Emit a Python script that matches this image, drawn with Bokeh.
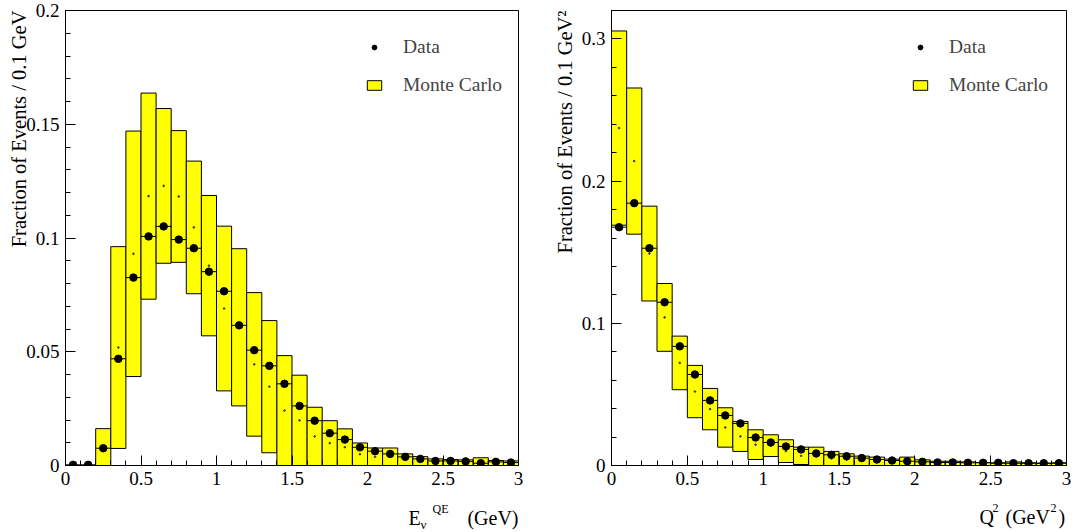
from bokeh.plotting import figure
from bokeh.layouts import row, column
from bokeh.models import (Range1d, FixedTicker, CustomJSTickFormatter, Label, Title,
                          Legend, LegendItem, ColumnDataSource)
from bokeh.embed import file_html
from bokeh.resources import INLINE

# ---------------- data ----------------
bin_lo = [round(0.1 * i, 1) for i in range(30)]
bin_hi = [round(0.1 * i + 0.1, 1) for i in range(30)]
bin_mid = [round(0.1 * i + 0.05, 2) for i in range(30)]

# Left panel: E_nu^QE
enu_data = [0.0003, 0.0003, 0.0076, 0.0469, 0.0826, 0.1007, 0.1051, 0.0993, 0.0955, 0.0852,
            0.0766, 0.0616, 0.0507, 0.0438, 0.0359, 0.0262, 0.0197, 0.0142, 0.0114, 0.0080,
            0.0063, 0.0051, 0.0038, 0.0029, 0.0020, 0.0020, 0.0018, 0.0010, 0.0016, 0.0013]
enu_mc_low = [0.0, 0.0, 0.0, 0.0075, 0.0391, 0.0731, 0.0889, 0.0893, 0.0755, 0.0570,
              0.0328, 0.0262, 0.0129, 0.0056, 0.0, 0.0, 0.0, 0.0, 0.0, 0.0,
              0.0, 0.0, 0.0, 0.0, 0.0, 0.0, 0.0, 0.0, 0.0, 0.0]
enu_mc_high = [0.0, 0.0, 0.0162, 0.0962, 0.1470, 0.1637, 0.1569, 0.1472, 0.1338, 0.1187,
               0.1052, 0.0953, 0.0760, 0.0637, 0.0483, 0.0397, 0.0256, 0.0197, 0.0161, 0.0099,
               0.0077, 0.0077, 0.0051, 0.0039, 0.0029, 0.0026, 0.0025, 0.0034, 0.0022, 0.0020]

# Right panel: Q^2
q2_data = [0.1676, 0.1845, 0.1528, 0.1148, 0.0838, 0.0640, 0.0458, 0.0352, 0.0296, 0.0197,
           0.0162, 0.0134, 0.0113, 0.0085, 0.0075, 0.0065, 0.0052, 0.0042, 0.0035, 0.0030,
           0.0026, 0.0021, 0.0021, 0.0019, 0.0019, 0.0019, 0.0016, 0.0016, 0.0016, 0.0016]
q2_mc_low = [0.1690, 0.1627, 0.1157, 0.0803, 0.0533, 0.0336, 0.0251, 0.0129, 0.0099, 0.0042,
             0.0063, 0.0021, 0.0007, 0.0, 0.0, 0.0, 0.0, 0.0, 0.0, 0.0,
             0.0, 0.0, 0.0, 0.0, 0.0, 0.0, 0.0, 0.0, 0.0, 0.0]
q2_mc_high = [0.3056, 0.2655, 0.1824, 0.1280, 0.0910, 0.0704, 0.0542, 0.0406, 0.0310, 0.0251,
              0.0216, 0.0181, 0.0129, 0.0129, 0.0099, 0.0082, 0.0066, 0.0059, 0.0045, 0.0059,
              0.0040, 0.0030, 0.0030, 0.0025, 0.0021, 0.0016, 0.0025, 0.0019, 0.0016, 0.0019]

x_ticks = [0, 0.5, 1, 1.5, 2, 2.5, 3]
x_minor = [round(0.1 * i, 1) for i in range(31)]
enu_y_ticks = [0, 0.05, 0.1, 0.15, 0.2]
enu_y_minor = [round(0.01 * i, 2) for i in range(21)]
q2_y_ticks = [0, 0.1, 0.2, 0.3]
q2_y_minor = [round(0.02 * i, 2) for i in range(17)]

FONT = "Liberation Serif"
YELLOW = "#ffff00"
MAIN_H = 496
TITLE_H = 36


def make_ytitle(text, standoff):
    kw = dict(text=text, align="right", text_font=FONT, text_font_size="20.5px",
              text_font_style="normal", text_color="black", offset=0)
    try:
        return Title(standoff=standoff, **kw)
    except Exception:
        return Title(standoff=0, **kw)


def make_panel(data, lo, hi, ymax, yticks, yminor, border_left, border_right,
               ytitle, ytitle_standoff):
    p = figure(width=537, height=MAIN_H, x_range=Range1d(0, 3), y_range=Range1d(0, ymax),
               output_backend="svg", toolbar_location=None,
               min_border_left=border_left, min_border_right=border_right,
               min_border_top=10, min_border_bottom=MAIN_H - 465)
    p.xgrid.visible = False
    p.ygrid.visible = False
    p.outline_line_color = "black"
    p.outline_line_alpha = 1.0
    p.outline_line_width = 1
    p.background_fill_color = "white"
    p.border_fill_color = "white"

    fmt = CustomJSTickFormatter(code="return String(Math.round(tick*1000)/1000);")
    p.xaxis.ticker = FixedTicker(ticks=x_ticks, minor_ticks=x_minor)
    p.yaxis.ticker = FixedTicker(ticks=yticks, minor_ticks=yminor)
    for ax in (p.xaxis, p.yaxis):
        ax.formatter = fmt
        ax.major_tick_in = 10
        ax.major_tick_out = 0
        ax.minor_tick_in = 5
        ax.minor_tick_out = 0
        ax.axis_line_color = "black"
        ax.major_tick_line_color = "black"
        ax.minor_tick_line_color = "black"
        ax.major_label_text_font = FONT
        ax.major_label_text_font_size = "19px"
        ax.major_label_text_color = "black"
        ax.major_label_standoff = 6

    mid = [(a + b) / 2 for a, b in zip(lo, hi)]
    src = ColumnDataSource(dict(lo=bin_lo, hi=bin_hi, mid=bin_mid, data=data,
                                mclo=lo, mchi=hi, mcmid=mid))
    r_mc = p.quad(left="lo", right="hi", bottom="mclo", top="mchi", source=src,
                  fill_color=YELLOW, line_color="black", line_width=1)
    p.scatter(x="mid", y="mcmid", source=src, size=1.6, color="#333333")
    p.segment(x0="lo", x1="hi", y0="data", y1="data", source=src,
              line_color="black", line_width=1)
    r_data = p.scatter(x="mid", y="data", source=src, size=7.5, color="black")

    legend = Legend(items=[LegendItem(label="Data", renderers=[r_data]),
                           LegendItem(label="Monte Carlo", renderers=[r_mc])],
                    location=(300, 369), border_line_color=None,
                    background_fill_alpha=0, label_text_font=FONT,
                    label_text_font_size="19.5px", glyph_width=18, glyph_height=12,
                    label_standoff=20, spacing=16, padding=0, margin=0)
    p.add_layout(legend)

    p.add_layout(make_ytitle(ytitle, ytitle_standoff), "left")
    return p


def make_title_strip(parts):
    t = figure(width=537, height=TITLE_H, x_range=Range1d(0, 537),
               y_range=Range1d(0, TITLE_H), output_backend="svg",
               toolbar_location=None, x_axis_type=None, y_axis_type=None,
               min_border=0)
    t.xgrid.visible = False
    t.ygrid.visible = False
    t.outline_line_color = None
    t.background_fill_color = "white"
    t.border_fill_color = "white"
    for (txt, x, y, size, align) in parts:
        t.add_layout(Label(x=x, y=y, text=txt, text_align=align,
                           text_baseline="alphabetic", text_font=FONT,
                           text_font_size=size, text_color="black"))
    return t


left = make_panel(enu_data, enu_mc_low, enu_mc_high, 0.2, enu_y_ticks, enu_y_minor,
                  65, 19, "Fraction of Events / 0.1 GeV", -12)
right = make_panel(q2_data, q2_mc_low, q2_mc_high, 0.32, q2_y_ticks, q2_y_minor,
                   74, 8, "Fraction of Events / 0.1 GeV\u00b2", 6)

left_title = make_title_strip([("E", 408, 15, "20px", "left"),
                               ("\u03bd", 420, 8, "13px", "left"),
                               ("QE", 432, 24, "12px", "left"),
                               ("(GeV)", 518, 15, "20px", "right")])
right_title = make_title_strip([("Q", 442, 16, "20px", "left"),
                                ("2", 455, 25, "12px", "left"),
                                ("(GeV", 468, 16, "20px", "left"),
                                ("2", 513, 25, "12px", "left"),
                                (")", 521, 16, "20px", "left")])

layout = column(row(left, right), row(left_title, right_title))
open("out.html", "w").write(file_html(layout, INLINE))
